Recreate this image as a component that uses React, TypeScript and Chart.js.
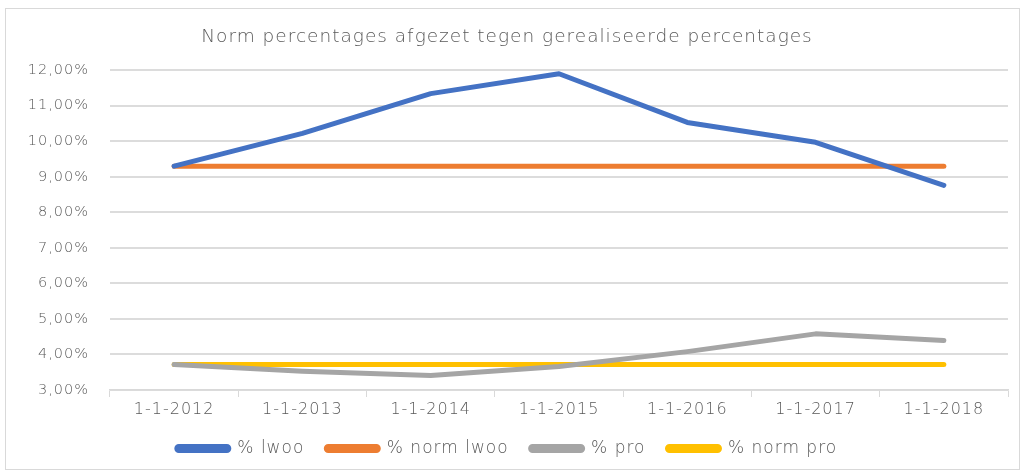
import React, { useEffect, useRef } from "react";
import { Chart, registerables } from "chart.js";

Chart.register(...registerables);

const categories = ["1-1-2012", "1-1-2013", "1-1-2014", "1-1-2015", "1-1-2016", "1-1-2017", "1-1-2018"];
const lwoo = [9.3, 10.22, 11.34, 11.9, 10.53, 9.97, 8.76];
const normLwoo = [9.3, 9.3, 9.3, 9.3, 9.3, 9.3, 9.3];
const pro = [3.72, 3.53, 3.41, 3.66, 4.08, 4.58, 4.39];
const normPro = [3.72, 3.72, 3.72, 3.72, 3.72, 3.72, 3.72];
const seriesNames = ["% lwoo", "% norm lwoo", "% pro", "% norm pro"];
const titleText = "Norm percentages afgezet tegen gerealiseerde percentages";

const FONT = "'DejaVu Sans', sans-serif";
const TEXT = "#595959";
const W = 300;

const spacingPlugin = {
  id: "letterSpacing",
  beforeUpdate(chart: any) {
    chart.ctx.letterSpacing = "1px";
  },
  beforeDraw(chart: any) {
    chart.ctx.letterSpacing = "1px";
  },
};

export default function App() {
  const ref = useRef<HTMLCanvasElement | null>(null);
  useEffect(() => {
    if (!ref.current) return;
    const mk = (label: string, data: number[], color: string) => ({
      label,
      data,
      borderColor: color,
      backgroundColor: color,
      borderWidth: 5,
      pointRadius: 0,
      borderCapStyle: "round" as const,
      borderJoinStyle: "round" as const,
      tension: 0,
    });
    const chart = new Chart(ref.current, {
      type: "line",
      data: {
        labels: categories,
        datasets: [
          mk(seriesNames[0], lwoo, "#4472C4"),
          mk(seriesNames[1], normLwoo, "#ED7D31"),
          mk(seriesNames[2], pro, "#A5A5A5"),
          mk(seriesNames[3], normPro, "#FFC000"),
        ],
      },
      plugins: [spacingPlugin],
      options: {
        animation: false,
        responsive: false,
        layout: { padding: { left: 0, right: 11, top: 17, bottom: 2 } },
        plugins: {
          title: {
            display: true,
            text: titleText,
            color: TEXT,
            font: { family: FONT, size: 18.5, weight: W },
            padding: { top: 0, bottom: 22 },
          },
          legend: {
            position: "bottom",
            labels: {
              color: TEXT,
              font: { family: FONT, size: 17, weight: W },
              boxWidth: 52,
              boxHeight: 4,
              useBorderRadius: true,
              borderRadius: 2,
              padding: 22,
            },
          },
          tooltip: { enabled: false },
        },
        scales: {
          x: {
            offset: true,
            afterFit: (s: any) => {
              s.height = 28;
            },
            grid: {
              offset: true,
              drawOnChartArea: false,
              drawTicks: true,
              tickLength: 7,
              color: "#d9d9d9",
            },
            border: { display: true, color: "#d9d9d9", width: 1.5 },
            ticks: {
              color: TEXT,
              font: { family: FONT, size: 16, weight: W },
              padding: 3,
              maxRotation: 0,
            },
          },
          y: {
            min: 3,
            max: 12,
            afterFit: (s: any) => {
              s.width = 104;
            },
            grid: { color: "#dcdcdc", lineWidth: 2, drawTicks: false },
            border: { display: false },
            ticks: {
              stepSize: 1,
              color: TEXT,
              padding: 21,
              font: { family: FONT, size: 14.5, weight: W },
              callback: (v: any) => Number(v).toFixed(2).replace(".", ",") + "%",
            },
          },
        },
      },
    });
    return () => chart.destroy();
  }, []);
  return (
    <div
      style={{
        position: "fixed",
        left: 5,
        top: 8,
        width: 1015,
        height: 462,
        border: "1px solid #d9d9d9",
        boxSizing: "border-box",
        background: "#fff",
      }}
    >
      <canvas ref={ref} width={1013} height={460} style={{ display: "block" }} />
    </div>
  );
}
